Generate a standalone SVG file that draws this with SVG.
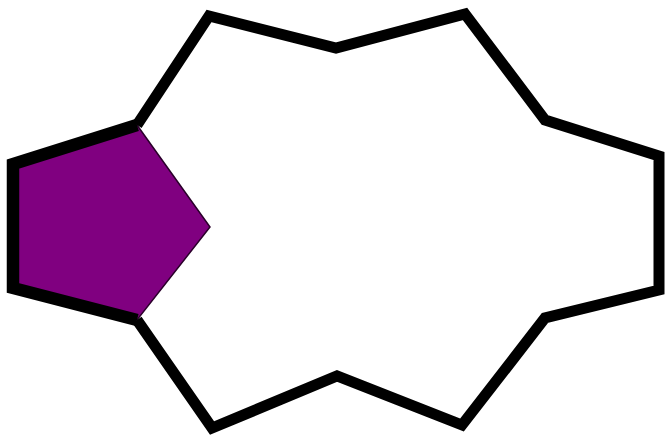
<svg xmlns="http://www.w3.org/2000/svg" width="665" height="440" viewBox="0 0 665 440">
<style>
.ring{fill:none;stroke:#000;stroke-width:11;stroke-linejoin:miter;stroke-miterlimit:4}
.pent{fill:#800080;stroke:#2a002a;stroke-width:1.5}
</style>
<rect width="665" height="440" fill="#fff"/>
<g id="pentagon">
<polygon class="pent" points="137,125 210,227 137,320 13,288 13,164"/>
</g>
<g id="ring">
<polyline class="ring" points="137,125 209,16 336,48 465,14 545,120 659,156 659,290 545,318 462,425 337,376 212,428 137,320"/>
<polyline class="ring" style="stroke-width:12.5" points="137,125 13,164 13,288 137,320"/>
</g>
</svg>
